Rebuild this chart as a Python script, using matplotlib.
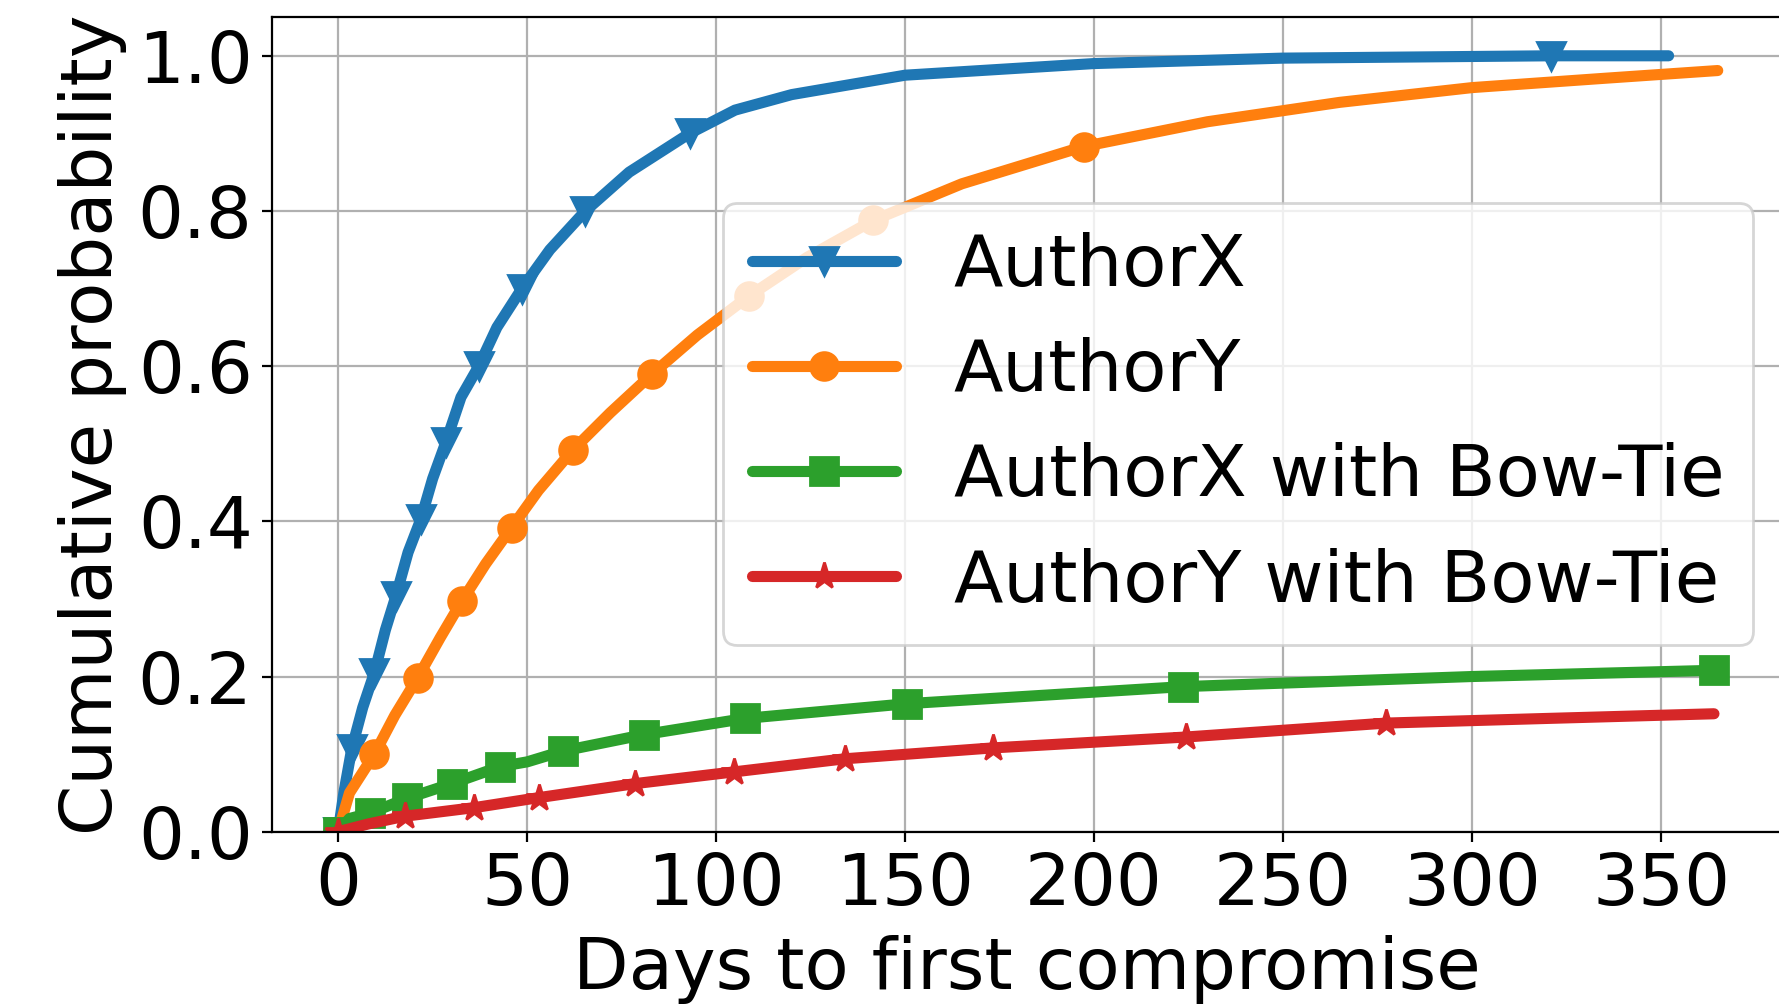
import matplotlib
matplotlib.use("Agg")
import matplotlib.pyplot as plt

# ---- data (days, cumulative probability) ----
x_authorx = [0, 1.5, 3.6, 6.5, 9.6, 12.5, 15.3, 18.5, 21.9, 25, 28.5, 32.5, 37.2, 42,
             48.6, 56, 65.4, 77, 93, 105, 120, 150, 200, 250, 320.8, 352]
y_authorx = [0, 0.05, 0.107, 0.16, 0.205, 0.26, 0.304, 0.36, 0.403, 0.455, 0.502, 0.56,
             0.6, 0.65, 0.7, 0.75, 0.8, 0.85, 0.9, 0.93, 0.95, 0.975, 0.99, 0.997, 1.0, 1.0]
mk_authorx = [0, 2, 4, 6, 8, 10, 12, 14, 16, 18, 24]

x_authory = [0, 3, 9.6, 15, 21, 27, 32.7, 39, 45.9, 53, 62.1, 72, 83.1, 95, 108.6, 124,
             141.6, 165, 197.2, 230, 265, 300, 335, 365]
y_authory = [0, 0.05, 0.1, 0.15, 0.198, 0.25, 0.297, 0.345, 0.392, 0.44, 0.492, 0.54,
             0.59, 0.64, 0.69, 0.74, 0.788, 0.835, 0.883, 0.915, 0.94, 0.959, 0.971, 0.981]
mk_authory = [0, 2, 4, 6, 8, 10, 12, 14, 16, 18]

x_authorx_bt = [0, 3, 8.5, 18.2, 30.1, 42.9, 50, 59.5, 80.8, 107.7, 150.6, 223.6, 300, 364]
y_authorx_bt = [0, 0.017, 0.024, 0.043, 0.062, 0.084, 0.09, 0.104, 0.125, 0.146, 0.165,
                0.187, 0.200, 0.208]
mk_authorx_bt = [0, 2, 3, 4, 5, 7, 8, 9, 10, 11, 13]

x_authory_bt = [0, 8, 17.7, 36, 53.2, 78.6, 104.6, 134.1, 173.2, 224.2, 277.3, 320, 364]
y_authory_bt = [0, 0.01, 0.02, 0.031, 0.044, 0.062, 0.077, 0.094, 0.108, 0.122, 0.140,
                0.146, 0.152]
mk_authory_bt = [0, 2, 3, 4, 5, 6, 7, 8, 9, 10]

labels = ["AuthorX", "AuthorY", "AuthorX with Bow-Tie", "AuthorY with Bow-Tie"]
x_ticks = [0, 50, 100, 150, 200, 250, 300, 350]
y_ticks = [0.0, 0.2, 0.4, 0.6, 0.8, 1.0]

plt.rcParams["font.size"] = 26
fig = plt.figure(figsize=(1779 / 200, 1008 / 200), dpi=200)
ax = fig.add_axes([272 / 1779, (1008 - 831.7) / 1008, (1782 - 272) / 1779, (831.7 - 17) / 1008])

series = [
    (x_authorx, y_authorx, mk_authorx, "v", "#1f77b4"),
    (x_authory, y_authory, mk_authory, "o", "#ff7f0e"),
    (x_authorx_bt, y_authorx_bt, mk_authorx_bt, "s", "#2ca02c"),
    (x_authory_bt, y_authory_bt, mk_authory_bt, "*", "#d62728"),
]
for (xs, ys, mk, m, c), lab in zip(series, labels):
    ax.plot(xs, ys, color=c, marker=m, markevery=mk, lw=4, ms=10, label=lab,
            solid_capstyle="round")

ax.set_xlim(-17.5, 382)
ax.set_ylim(0, 1.05)
ax.set_xticks(x_ticks)
ax.set_yticks(y_ticks)
ax.grid(True)
ax.set_xlabel("Days to first compromise", labelpad=5.5)
ax.set_ylabel("Cumulative probability")
ax.legend(loc="center right", bbox_to_anchor=(1.005, 0.5))

fig.savefig("out.png", dpi=200)
